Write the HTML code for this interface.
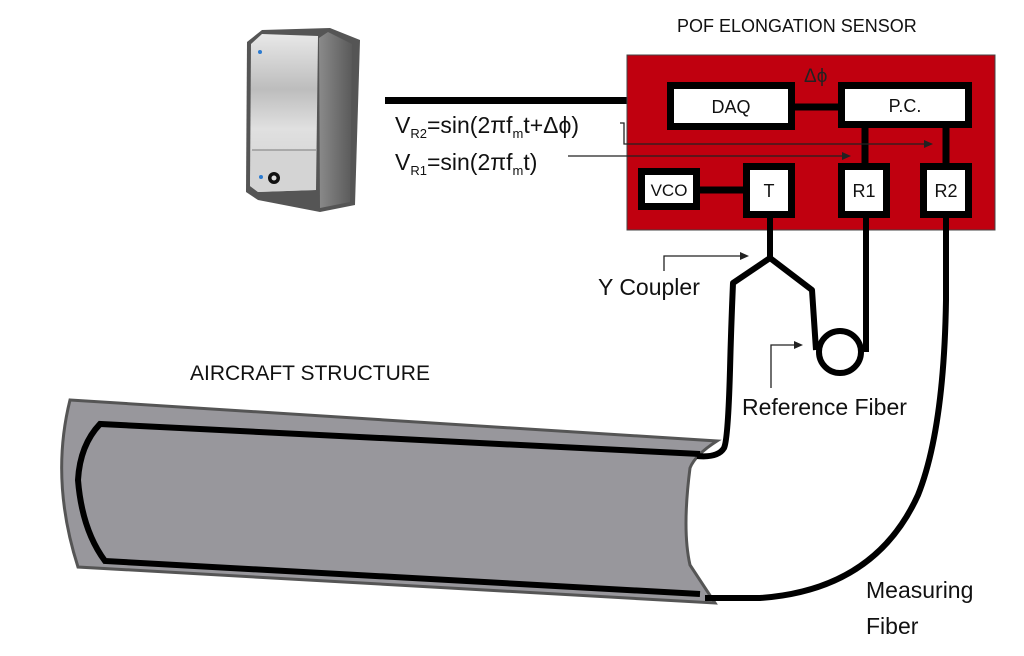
<!DOCTYPE html>
<html><head><meta charset="utf-8"><style>
html,body{margin:0;padding:0;background:#fff;}
svg{display:block;font-family:"Liberation Sans",sans-serif;}
</style></head><body>
<svg width="1024" height="656" viewBox="0 0 1024 656" xmlns="http://www.w3.org/2000/svg">
<defs>
<linearGradient id="cf" x1="0" x2="0" y1="0" y2="1">
<stop offset="0" stop-color="#e8e8e8"/><stop offset="0.35" stop-color="#bdbdbd"/><stop offset="0.6" stop-color="#e0e0e0"/><stop offset="1" stop-color="#cfcfcf"/>
</linearGradient>
<linearGradient id="cs" x1="0" x2="1"><stop offset="0" stop-color="#8a8a8a"/><stop offset="1" stop-color="#5a5a5a"/></linearGradient>
</defs>
<!-- computer -->
<path d="M247,42 L262,30 L330,28 L360,40 L355,205 L320,212 L258,200 L246,192 Z" fill="#555"/>
<path d="M251,44 L262,34 L318,36 L316,190 L258,192 L250,186 Z" fill="url(#cf)"/>
<path d="M251,150 L316,150 L316,190 L258,192 L250,186 Z" fill="#d4d4d4"/>
<path d="M319,38 L328,32 L352,44 L350,202 L320,208 Z" fill="url(#cs)"/>
<line x1="252" y1="150" x2="316" y2="150" stroke="#999" stroke-width="1.5"/>
<circle cx="260" cy="52" r="2" fill="#2a7ad0"/>
<circle cx="261" cy="177" r="2" fill="#2a7ad0"/>
<circle cx="274" cy="178" r="6" fill="#111"/><circle cx="274" cy="178" r="2.5" fill="#ddd"/>
<!-- cable -->
<rect x="385" y="97" width="245" height="7" fill="#000"/>
<!-- red box -->
<rect x="627" y="55" width="368" height="175" fill="#c0000f" stroke="#444" stroke-width="1"/>
<text x="677" y="32" font-size="18" fill="#111">POF ELONGATION SENSOR</text>
<!-- boxes -->
<g fill="#fff" stroke="#000" stroke-width="7">
<rect x="670.5" y="85.5" width="121" height="41"/>
<rect x="841.5" y="85.5" width="127" height="39"/>
<rect x="641.5" y="171.5" width="55" height="35"/>
<rect x="746.5" y="166.5" width="45" height="48"/>
<rect x="841.5" y="166.5" width="45" height="48"/>
<rect x="923.5" y="166.5" width="45" height="48"/>
</g>
<g stroke="#000" stroke-width="7">
<line x1="795" y1="107" x2="838" y2="107"/>
<line x1="700" y1="190" x2="743" y2="190"/>
<line x1="865" y1="128" x2="865" y2="163"/>
<line x1="946" y1="128" x2="946" y2="163"/>
</g>
<g font-size="18" text-anchor="middle" fill="#111">
<text x="731" y="113">DAQ</text>
<text x="905" y="112">P.C.</text>
<text x="669" y="196" font-size="17">VCO</text>
<text x="769" y="197">T</text>
<text x="864" y="197">R1</text>
<text x="946" y="197">R2</text>
</g>
<text x="804" y="82" font-size="19" fill="#222">Δϕ</text>
<!-- equation arrows -->
<g stroke="#222" stroke-width="1.3" fill="none">
<path d="M620,123 L624,123 L624,144 L928,144"/>
<line x1="568" y1="156" x2="846" y2="156"/>
</g>
<path d="M933,144 L924,140 L924,148 Z" fill="#222"/>
<path d="M851,156 L842,152 L842,160 Z" fill="#222"/>
<g font-size="23" fill="#111">
<text x="395" y="133">V<tspan font-size="13" dy="5">R2</tspan><tspan dy="-5">=sin(2πf</tspan><tspan font-size="13" dy="5">m</tspan><tspan dy="-5">t+Δϕ)</tspan></text>
<text x="395" y="170">V<tspan font-size="13" dy="5">R1</tspan><tspan dy="-5">=sin(2πf</tspan><tspan font-size="13" dy="5">m</tspan><tspan dy="-5">t)</tspan></text>
</g>
<!-- tube -->
<path d="M70,400 L717,441 Q695,455 690,468 Q682,530 690,565 L715,603 L78,567 Q50,480 70,400 Z" fill="#98979c" stroke="#555" stroke-width="3"/>
<path d="M700,454 L100,424 Q80,445 78,480 Q82,530 105,561 L700,594" fill="none" stroke="#000" stroke-width="6"/>
<!-- fibers -->
<g fill="none" stroke="#000" stroke-width="6" stroke-linejoin="round">
<path d="M770,218 L770,258 L733,283 Q731,330 730,370 Q728,440 724,448 Q718,458 697,456"/>
<path d="M770,258 L812,290 L816,350"/>
<circle cx="840" cy="352" r="21"/>
<path d="M866,218 L866,352"/>
<path d="M946,218 L946,300 Q944,430 918,495 Q875,590 760,598 L705,598"/>
</g>
<!-- label arrows -->
<g stroke="#222" stroke-width="1.3" fill="none">
<path d="M664,271 L664,256 L744,256"/>
<path d="M771,388 L771,345 L798,345"/>
</g>
<path d="M749,256 L740,252 L740,260 Z" fill="#222"/>
<path d="M803,345 L794,341 L794,349 Z" fill="#222"/>
<g font-size="23" fill="#111">
<text x="598" y="295">Y Coupler</text>
<text x="742" y="415">Reference Fiber</text>
<text x="866" y="598">Measuring</text>
<text x="866" y="634">Fiber</text>
<text x="190" y="380" font-size="21">AIRCRAFT STRUCTURE</text>
</g>
</svg>
</body></html>
